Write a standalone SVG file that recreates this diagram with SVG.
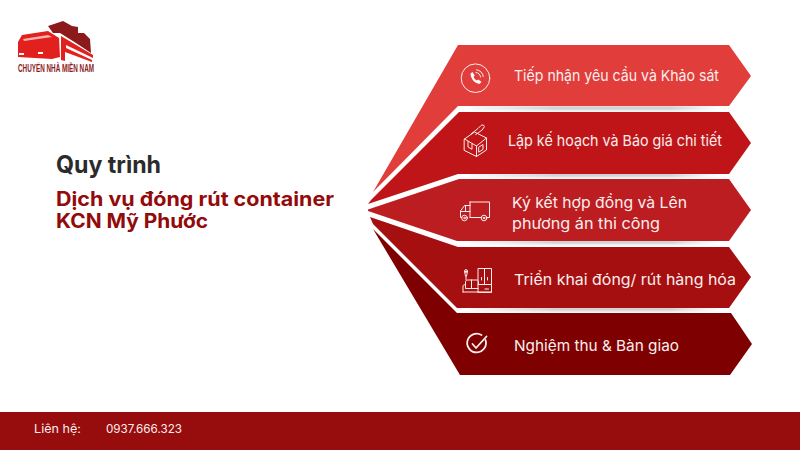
<svg xmlns="http://www.w3.org/2000/svg" width="800" height="450" viewBox="0 0 800 450">
<style>
.t{font-family:"Inter","Open Sans","Liberation Sans",sans-serif;font-weight:400;font-size:15px;fill:#fbeeee}
.h{font-family:"Inter","Open Sans","Liberation Sans",sans-serif;font-weight:700;font-size:19.500px;fill:#930a0a}
.i{fill:none;stroke:#fdeeee;stroke-width:1;stroke-linejoin:round;stroke-linecap:round}
.sh{filter:url(#b)}
</style>
<defs>
<filter id="b" x="-5%" y="-200%" width="110%" height="500%"><feGaussianBlur stdDeviation="1.500"/></filter>
<linearGradient id="g" x1="0" x2="1" y1="0" y2="0"><stop offset="0" stop-color="#aaa" stop-opacity=".1"/><stop offset=".35" stop-color="#999" stop-opacity=".55"/><stop offset=".8" stop-color="#999" stop-opacity=".55"/><stop offset="1" stop-color="#aaa" stop-opacity="0"/></linearGradient>
</defs>
<rect width="800" height="450" fill="#fff"/>
<g id="shadows">
<rect class="sh" x="470" y="106" width="250" height="4" fill="url(#g)"/>
<rect class="sh" x="470" y="173" width="250" height="4" fill="url(#g)"/>
<rect class="sh" x="470" y="240" width="250" height="4" fill="url(#g)"/>
<rect class="sh" x="470" y="307" width="250" height="4" fill="url(#g)"/>
</g>
<g id="step1"><polygon points="373,192 458,45 729,45 751,76 729,106 458,106" fill="#e03d3b"/>
<circle class="i" cx="475.500" cy="78.200" r="14.300"/>
<path d="M470.500 73.500l2-1.500 2.200 3.400-1.200 1.300c.6 1.700 1.800 3 3.400 3.800l1.300-1.100 3.200 2.400-1.500 2c-4.800.5-9.500-5.500-9.400-10.300z" fill="#fff"/>
<path class="i" d="M476 72.500a5 5 0 0 1 4.500 4.500M476.500 69.800a8 8 0 0 1 6.800 6.800"/>
<text class="t" x="514" y="81" textLength="205" lengthAdjust="spacingAndGlyphs">Tiếp nhận yêu cầu và Khảo sát</text></g>
<g id="step2"><polygon points="371,200 459,112 729,112 751,143 729,174 458,174 368,204" fill="#c01518"/>
<path class="i" d="M464.500 139l10-7 12 6v12l-10 6.500-12-6zM464.500 139l12 7 10-8M476.500 146v10.500M468 141.500v5.500l4 2.300v-5.500M479 147l4-2.500v5l-4 2.500zM471 134l7-5.500 3-3c1-1 3.200-.5 3.400 1l-2.200 3.500-6.500 4.500"/>
<text class="t" x="508" y="146" textLength="214" lengthAdjust="spacingAndGlyphs">Lập kế hoạch và Báo giá chi tiết</text></g>
<g id="step3"><polygon points="368,209.500 459,179 729,179 751,210 729,241 457,241 368,211" fill="#bc1d21"/>
<path class="i" d="M470 202h19.500v15.500h-3M470 202v15.500M481 217.500h-11M467.500 217.500h-.5M470 205.500h-5.500l-4 5.500v6.500h1M460.500 211.500h9.500M465.500 205.500v6"/>
<circle class="i" cx="464.500" cy="218" r="2.800"/><circle class="i" cx="484" cy="218" r="2.800"/>
<circle class="i" cx="464.500" cy="218" r=".8"/><circle class="i" cx="484" cy="218" r=".8"/>
<text class="t"><tspan x="512" y="208" textLength="175" lengthAdjust="spacingAndGlyphs">Ký kết hợp đồng và Lên</tspan><tspan x="512" y="229" textLength="148" lengthAdjust="spacingAndGlyphs">phương án thi công</tspan></text></g>
<g id="step4"><polygon points="370,217 458,247 729,247 751,277 729,308 457,308 373,224" fill="#a50f10"/>
<path class="i" d="M478 292v-23.500h13.500V292zM484.500 268.500v16M478 284.500h13.500M478 292h13.500M485 289h3.500M481.500 277.500v2.500M487.500 277.500v2.500"/>
<path class="i" d="M463 292v-6c0-1 1.500-1.500 2.500-1v-3c0-1 1-2 2-2h9.500c1 0 1.500 1 1.500 2v2.500M463 292h15M465.500 285.500v3h12.500M471.500 280v8.500M466 280v-4M465.500 276l-1-4.500h3l-1 4.500"/>
<circle class="i" cx="466" cy="271" r="1.400"/>
<text class="t" x="514" y="285" textLength="222" lengthAdjust="spacingAndGlyphs">Triển khai đóng/ rút hàng hóa</text></g>
<g id="step5"><polygon points="373,229 457,313 731,313 752,344 730,375 460,375" fill="#7e0001"/>
<path class="i" d="M485.500 340a9.400 9.400 0 1 1-4-5" style="stroke-width:1.800"/>
<path class="i" d="M472.500 344l3.500 4 10.500-11.500" style="stroke-width:1.800"/>
<text class="t" x="514" y="351" textLength="165" lengthAdjust="spacingAndGlyphs">Nghiệm thu &amp; Bàn giao</text></g>
<g id="title">
<text x="56" y="173" textLength="105" lengthAdjust="spacingAndGlyphs" style="font-family:Inter,'Liberation Sans',sans-serif;font-weight:700;font-size:24px;fill:#2b2b2b">Quy trình</text>
<text class="h" x="56" y="206" textLength="278" lengthAdjust="spacingAndGlyphs">Dịch vụ đóng rút container</text>
<text class="h" x="56" y="228" textLength="152" lengthAdjust="spacingAndGlyphs">KCN Mỹ Phước</text>
</g>
<g id="footer"><rect y="412" width="800" height="38" fill="#970c0c"/>
<text x="34" y="433" textLength="47" lengthAdjust="spacingAndGlyphs" style="font-family:Inter,'Liberation Sans',sans-serif;font-size:12px;fill:#fbeeee">Liên hệ:</text>
<text x="106" y="433" textLength="76" lengthAdjust="spacingAndGlyphs" style="font-family:Inter,'Liberation Sans',sans-serif;font-size:12px;fill:#fbeeee">0937.666.323</text></g>
<g id="logo">
<polygon points="48,26 63,21 72,26 78,27 78,33 84,33 90,39 91,53 76,43 60,33 53,33" fill="#8c1a1c"/>
<polygon points="18,42 22,35 48,31 59,38 60,57 52,59 18,57" fill="#e2211f"/>
<path d="M23 39l25-4 4 2-28 4z" fill="#f9b4b0"/>
<rect x="19" y="53" width="5" height="2" fill="#fff"/><rect x="38" y="52" width="5" height="2" fill="#fff"/>
<polygon points="61,36 93,55 93,58 66,45 66,48 92,60 92,62 65,52 65,61 61,60" fill="#e2211f"/>
<text x="18" y="72" textLength="76" lengthAdjust="spacingAndGlyphs" style="font-family:'Liberation Sans',sans-serif;font-weight:700;font-size:10px;fill:#8c1a1c">CHUYỂN NHÀ MIỀN NAM</text>
</g>
</svg>
